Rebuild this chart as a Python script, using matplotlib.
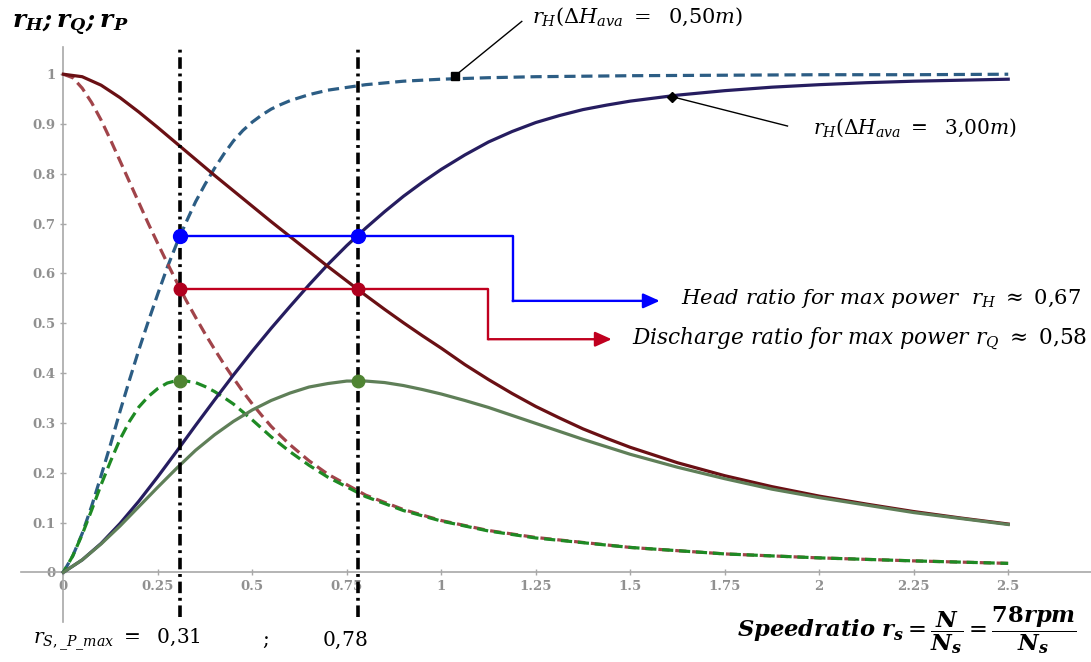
import matplotlib
matplotlib.use('Agg')
import matplotlib.pyplot as plt

# values
# solid curves: available head 3,00 m
xs_3m = [0, 0.05, 0.1, 0.15, 0.2, 0.25, 0.3, 0.35, 0.4, 0.45, 0.5, 0.55, 0.6, 0.65, 0.7, 0.75,
         0.8, 0.85, 0.9, 0.95, 1.0, 1.0625, 1.125, 1.1875, 1.25, 1.3125, 1.375, 1.4375, 1.5,
         1.625, 1.75, 1.875, 2.0, 2.125, 2.25, 2.375, 2.5]
rh_3m = [0, 0.025, 0.058, 0.098, 0.143, 0.192, 0.243, 0.295, 0.346, 0.396, 0.444, 0.49, 0.534,
         0.577, 0.618, 0.656, 0.691, 0.724, 0.755, 0.783, 0.809, 0.838, 0.864, 0.885, 0.903,
         0.917, 0.929, 0.938, 0.946, 0.958, 0.967, 0.974, 0.979, 0.983, 0.986, 0.988, 0.99]
rq_3m = [1.0, 0.995, 0.978, 0.953, 0.924, 0.893, 0.861, 0.829, 0.797, 0.766, 0.735, 0.704, 0.674,
         0.644, 0.614, 0.585, 0.556, 0.528, 0.501, 0.475, 0.45, 0.417, 0.387, 0.359, 0.333,
         0.31, 0.288, 0.269, 0.251, 0.22, 0.194, 0.172, 0.153, 0.137, 0.122, 0.109, 0.097]
rp_3m = [0, 0.025, 0.057, 0.093, 0.132, 0.171, 0.209, 0.245, 0.276, 0.303, 0.326, 0.345, 0.36,
         0.372, 0.379, 0.384, 0.384, 0.381, 0.375, 0.367, 0.358, 0.345, 0.331, 0.315, 0.299,
         0.283, 0.267, 0.252, 0.237, 0.211, 0.188, 0.167, 0.15, 0.135, 0.12, 0.108, 0.096]

# dashed curves: available head 0,50 m
xs_05 = [0, 0.025, 0.05, 0.075, 0.1, 0.125, 0.15, 0.175, 0.2, 0.225, 0.25, 0.275, 0.3, 0.325,
         0.35, 0.375, 0.4, 0.425, 0.45, 0.475, 0.5, 0.525, 0.55, 0.575, 0.6, 0.65, 0.7, 0.8,
         0.9, 1.0, 1.125, 1.25, 1.5, 1.75, 2.0, 2.25, 2.5]
rh_05 = [0, 0.033, 0.078, 0.133, 0.194, 0.257, 0.323, 0.386, 0.447, 0.504, 0.559, 0.612, 0.66,
         0.703, 0.744, 0.779, 0.811, 0.84, 0.866, 0.887, 0.904, 0.918, 0.93, 0.939, 0.947,
         0.959, 0.968, 0.979, 0.986, 0.99, 0.993, 0.995, 0.997, 0.998, 0.999, 0.999, 1.0]
rq_05 = [1.0, 0.993, 0.972, 0.943, 0.908, 0.868, 0.826, 0.784, 0.742, 0.70, 0.66, 0.621, 0.583,
         0.546, 0.512, 0.479, 0.448, 0.418, 0.39, 0.363, 0.338, 0.315, 0.293, 0.274, 0.256,
         0.224, 0.197, 0.155, 0.126, 0.104, 0.084, 0.07, 0.05, 0.037, 0.029, 0.023, 0.018]
rp_05 = [0, 0.033, 0.076, 0.125, 0.176, 0.223, 0.267, 0.303, 0.332, 0.353, 0.369, 0.38, 0.385,
         0.384, 0.381, 0.373, 0.363, 0.351, 0.338, 0.322, 0.306, 0.289, 0.272, 0.257, 0.242,
         0.215, 0.191, 0.152, 0.124, 0.103, 0.083, 0.069, 0.05, 0.037, 0.029, 0.023, 0.018]

# speed ratios for max power and the ratios at that point
rs_pmax = [0.31, 0.78]
rh_pmax = 0.675
rq_pmax = 0.568
rp_pmax = 0.385

xticks = [0, 0.25, 0.5, 0.75, 1, 1.25, 1.5, 1.75, 2, 2.25, 2.5]
xtick_labels = ['0', '0.25', '0.5', '0.75', '1', '1.25', '1.5', '1.75', '2', '2.25', '2.5']
yticks = [0, 0.1, 0.2, 0.3, 0.4, 0.5, 0.6, 0.7, 0.8, 0.9, 1]
ytick_labels = ['0', '0.1', '0.2', '0.3', '0.4', '0.5', '0.6', '0.7', '0.8', '0.9', '1']

plt.rcParams['mathtext.fontset'] = 'dejavuserif'

fig = plt.figure(figsize=(10.91, 6.62), dpi=100)
ax = fig.add_axes([0, 0, 1, 1])
ax.set_xlim(-0.1675, 2.719)
ax.set_ylim(-0.180, 1.149)

# axes through the origin, mathematica style
for s in ['top', 'right']:
    ax.spines[s].set_visible(False)
ax.spines['left'].set_position(('data', 0))
ax.spines['bottom'].set_position(('data', 0))
ax.spines['left'].set_bounds(-0.099, 1.055)
ax.spines['bottom'].set_bounds(-0.112, 2.719)
for s in ['left', 'bottom']:
    ax.spines[s].set_color('#a8a8a8')
    ax.spines[s].set_linewidth(1.2)
ax.set_xticks(xticks)
ax.set_xticklabels(xtick_labels)
ax.set_yticks(yticks)
ax.set_yticklabels(ytick_labels)
ax.tick_params(direction='inout', length=5, width=1, color='#a8a8a8',
               labelcolor='#909090', labelsize=9.5, pad=3)
for lab in ax.get_xticklabels() + ax.get_yticklabels():
    lab.set_family('DejaVu Serif')
    lab.set_fontweight('bold')

dash = (0, (3.5, 1.8))
ax.plot(xs_05, rh_05, color='#2c5d84', lw=2.3, linestyle=dash, zorder=3)
ax.plot(xs_05, rq_05, color='#a1444a', lw=2.3, linestyle=dash, zorder=3)
ax.plot(xs_05, rp_05, color='#1e8a24', lw=2.3, linestyle=(1.6, (3.5, 1.8)), zorder=3)

ax.plot(xs_3m, rh_3m, color='#261d60', lw=2.3, zorder=4)
ax.plot(xs_3m, rq_3m, color='#6a1014', lw=2.3, zorder=4)
ax.plot(xs_3m, rp_3m, color='#5f7f58', lw=2.3, zorder=4)

# vertical dash-dot lines at the max power speed ratios
for xv in rs_pmax:
    ax.plot([xv, xv], [-0.09, 1.055], color='black', lw=2.6,
            linestyle=(0, (3.2, 1.3, 0.8, 1.3)), zorder=5)

# connectors to the text labels
ax.plot([rs_pmax[0], 1.189, 1.189], [rh_pmax, rh_pmax, 0.545], color='#0000ff', lw=1.7, zorder=6)
ax.annotate('', xy=(1.578, 0.545), xytext=(1.189, 0.545),
            arrowprops=dict(arrowstyle='-|>,head_length=1.0,head_width=0.45',
                            color='#0000ff', lw=1.7, shrinkA=0, shrinkB=0), zorder=6)
ax.plot([rs_pmax[0], 1.124, 1.124], [rq_pmax, rq_pmax, 0.468], color='#c0001f', lw=1.7, zorder=6)
ax.annotate('', xy=(1.451, 0.468), xytext=(1.124, 0.468),
            arrowprops=dict(arrowstyle='-|>,head_length=1.0,head_width=0.45',
                            color='#c0001f', lw=1.7, shrinkA=0, shrinkB=0), zorder=6)

ax.plot(rs_pmax, [rh_pmax] * 2, 'o', color='#0000ff', ms=10, zorder=7)
ax.plot(rs_pmax, [rq_pmax] * 2, 'o', color='#b0001e', ms=9, zorder=7)
ax.plot(rs_pmax, [rp_pmax] * 2, 'o', color='#4f8432', ms=9, zorder=7)

# leader lines for the two head curves
ax.plot([1.035, 1.213], [0.996, 1.106], color='black', lw=1, zorder=6)
ax.plot([1.035], [0.996], 's', color='black', ms=6, zorder=7)
ax.plot([1.61, 1.916], [0.955, 0.896], color='black', lw=1, zorder=6)
ax.plot([1.61], [0.955], 'D', color='black', ms=5.5, zorder=7)

ax.text(1.240, 1.115, r'$r_H(\Delta H_{ava}\ =\ \ 0{,}50m)$', fontsize=15, ha='left', va='center')
ax.text(1.983, 0.892, r'$r_H(\Delta H_{ava}\ =\ \ 3{,}00m)$', fontsize=14.5, ha='left', va='center')
ax.text(1.634, 0.549, r'$Head\ ratio\ for\ max\ power\ \ r_H\ \approx\ 0{,}67$',
        fontsize=15.2, ha='left', va='center')
ax.text(1.504, 0.468, r'$Discharge\ ratio\ for\ max\ power\ r_Q\ \approx\ 0{,}58$',
        fontsize=15.6, ha='left', va='center')

fig.text(0.011, 0.962, r'$\mathbfit{r_H;r_Q;r_P}$', fontsize=18, ha='left', va='center')
fig.text(0.030, 0.033, r'$r_{S,\_P\_max}\ =\ \ 0{,}31$', fontsize=14.5, ha='left', va='center')
fig.text(0.240, 0.033, r'$;$', fontsize=14.5, ha='left', va='center')
fig.text(0.295, 0.033, r'$0{,}78$', fontsize=14.5, ha='left', va='center')
fig.text(0.987, 0.048,
         r'$\mathbfit{Speedratio\ r_s} = \dfrac{\mathbfit{N}}{\mathbfit{N_s}} = \dfrac{\mathbf{78}\mathbfit{rpm}}{\mathbfit{N_s}}$',
         fontsize=16.3, ha='right', va='center')

fig.savefig('out.png', dpi=100)
